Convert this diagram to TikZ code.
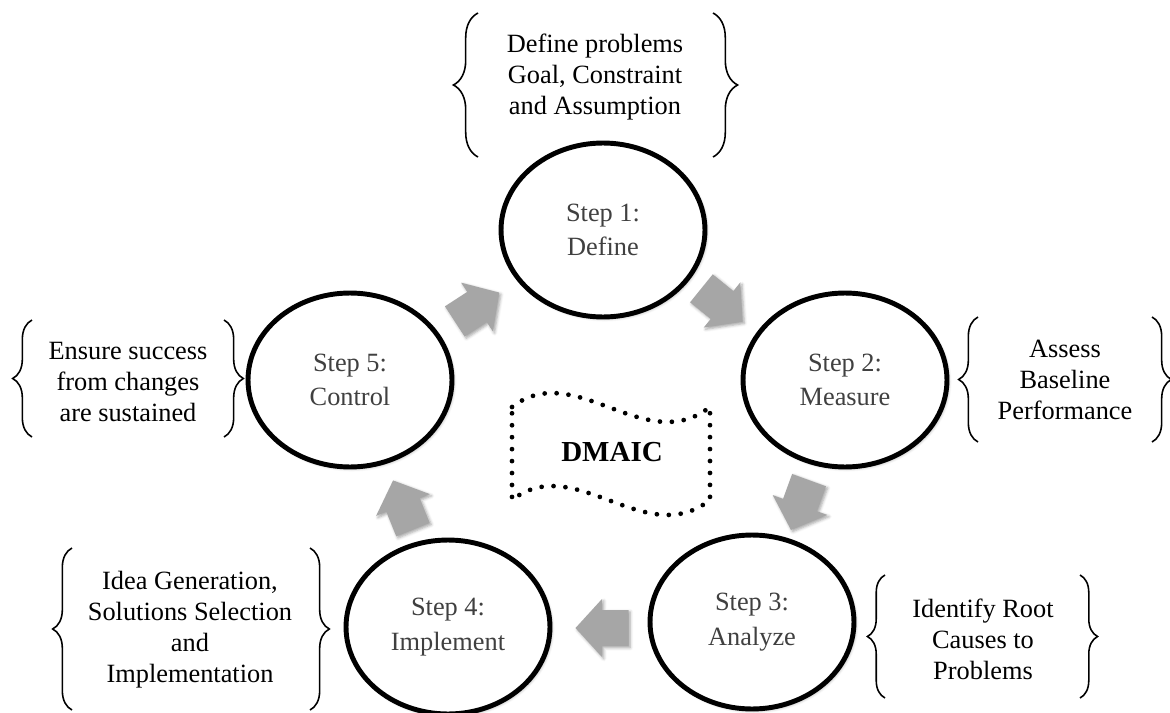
\documentclass[tikz,border=0pt]{standalone}
\usepackage{fontspec}
\setmainfont{Liberation Serif}
\usetikzlibrary{shapes.geometric,decorations.pathreplacing,shadows.blur}
\definecolor{arrowgray}{HTML}{A6A6A6}
\definecolor{steptext}{HTML}{404040}
\begin{document}
\begin{tikzpicture}[x=0.02cm,y=-0.02cm,
  softshadow/.style={blur shadow={shadow xshift=1pt, shadow yshift=-1pt, shadow blur radius=1.6pt, shadow opacity=35}},
  stepcirc/.style={ellipse, draw, fill=white, softshadow, line width=2.8pt, minimum width=4.08cm, minimum height=3.48cm, inner sep=0pt, align=center, font=\fontsize{15}{19.5}\selectfont, text=steptext},
  note/.style={align=center, font=\fontsize{15}{17.6}\selectfont, inner sep=0pt},
  bracestyle/.style={decorate, decoration={brace, amplitude=11pt}, line width=0.9pt},
  wavedots/.style={line width=2.7pt, line cap=round, dash pattern=on 0pt off 6.8pt},
  blockarrow/.pic={\fill[arrowgray, softshadow] (-26.5,-18) -- (0,-18) -- (0,-29) -- (26.5,0) -- (0,29) -- (0,18) -- (-26.5,18) -- cycle;}
]
\useasboundingbox (0,0) rectangle (1170,713);

% step circles
\node[stepcirc] (s1) at (603,230) {Step 1:\\Define};
\node[stepcirc] (s2) at (845,380) {Step 2:\\Measure};
\node[stepcirc] (s3) at (752,622) {Step 3:\\Analyze};
\node[stepcirc] (s4) at (448,627) {Step 4:\\Implement};
\node[stepcirc] (s5) at (350,380) {Step 5:\\Control};

% block arrows
\pic[rotate=33] (a1) at (477,307) {blockarrow};
\pic[rotate=-39] (a2) at (722,305) {blockarrow};
\pic[rotate=-110] (a3) at (800,505) {blockarrow};
\pic[rotate=180] (a4) at (602,628) {blockarrow};
\pic[rotate=112] (a5) at (403,505) {blockarrow};

% notes
\node[note] (t1) at (595,77) {Define problems\\Goal, Constraint\\and Assumption};
\node[note] (t2) at (1065,380) {Assess\\Baseline\\Performance};
\node[note] (t3) at (983,639) {Identify Root\\Causes to\\Problems};
\node[note] (t4) at (190,630) {Idea Generation,\\Solutions Selection\\and\\Implementation};
\node[note] (t5) at (128,382) {Ensure success\\from changes\\are sustained};

% braces
\draw[bracestyle, decoration={amplitude=14pt}] (478,157) -- (478,13);
\draw[bracestyle, decoration={amplitude=14pt}] (713,13) -- (713,157);
\draw[bracestyle] (978,442) -- (978,317);
\draw[bracestyle] (1152,317) -- (1152,442);
\draw[bracestyle, decoration={amplitude=10pt}] (885,698) -- (885,575);
\draw[bracestyle, decoration={amplitude=10pt}] (1080,575) -- (1080,698);
\draw[bracestyle] (72,710) -- (72,548);
\draw[bracestyle] (310,548) -- (310,710);
\draw[bracestyle] (32,437) -- (32,320);
\draw[bracestyle] (224,320) -- (224,437);

% DMAIC wave
\draw[wavedots] (512,407) .. controls (575,358) and (645,458) .. (710,407) -- (710,500) .. controls (645,551) and (575,451) .. (512,500) -- cycle;
\node[font=\fontsize{16.5}{20}\selectfont\bfseries] (dm) at (612,452) {DMAIC};
\end{tikzpicture}
\end{document}
